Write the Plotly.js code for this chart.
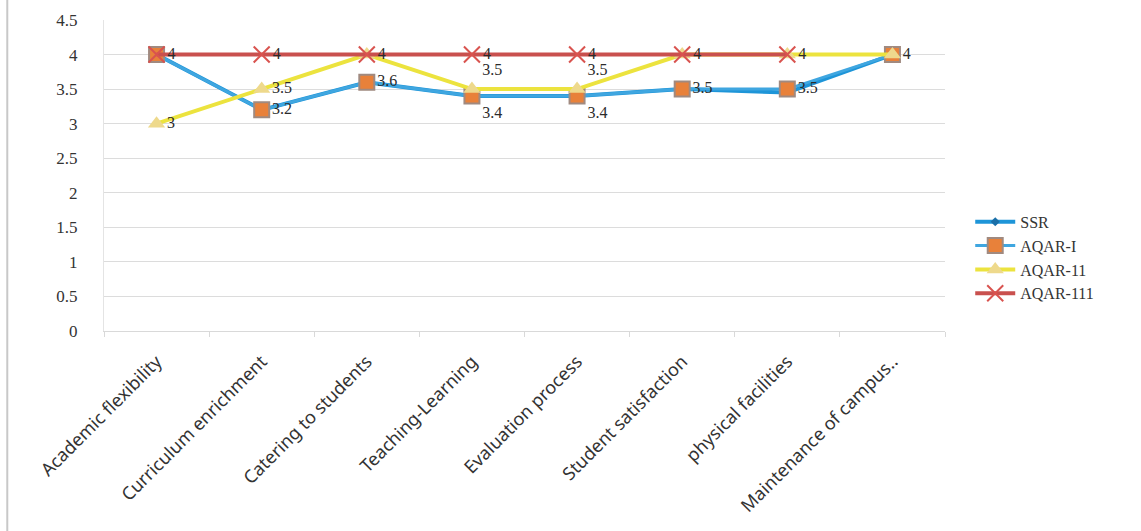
<!DOCTYPE html>
<html>
<head>
<meta charset="utf-8">
<script src="https://cdn.plot.ly/plotly-3.0.1.min.js"></script>
<style>
html,body{margin:0;padding:0;background:#fff;}
#chart{width:1141px;height:531px;}
</style>
</head>
<body>
<div id="chart"></div>
<script>
const categories = ["Academic flexibility","Curriculum enrichment","Catering to students","Teaching-Learning","Evaluation process","Student satisfaction","physical facilities","Maintenance of campus.."];
const seriesNames = ["SSR","AQAR-I","AQAR-11","AQAR-111"];
const ssr = [4, 3.2, 3.6, 3.4, 3.4, 3.5, 3.45, 4];
const aqar1 = [4, 3.2, 3.6, 3.4, 3.4, 3.5, 3.5, 4];
const aqar2 = [3, 3.5, 4, 3.5, 3.5, 4, 4, 4];
const aqar3 = [4, 4, 4, 4, 4, 4, 4, null];
const yTicks = [0, 0.5, 1, 1.5, 2, 2.5, 3, 3.5, 4, 4.5];
const yTickText = ["0","0.5","1","1.5","2","2.5","3","3.5","4","4.5"];

const allSeries = [ssr, aqar1, aqar2, aqar3];
const fmt = v => (v === null ? "" : String(Math.round(v * 10) / 10));

// label text: hide a label when a later-drawn series shows the same label at the same point
function labels(idx) {
  return allSeries[idx].map((v, i) => {
    if (v === null) return "";
    for (let j = idx + 1; j < allSeries.length; j++) {
      if (allSeries[j][i] !== null && fmt(allSeries[j][i]) === fmt(v)) return "";
    }
    return fmt(v);
  });
}
// label position: nudge up/down when another visible label is close
function positions(idx) {
  return allSeries[idx].map((v, i) => {
    if (v === null) return "middle right";
    let pos = "middle right";
    for (let j = 0; j < allSeries.length; j++) {
      if (j === idx) continue;
      const w = allSeries[j][i];
      if (w === null || fmt(w) === fmt(v)) continue;
      if (Math.abs(w - v) <= 0.2) pos = v > w ? "top right" : "bottom right";
    }
    return pos;
  });
}

const labelFont = {family: "Liberation Serif, Times New Roman, serif", size: 16, color: "#2b2b2b"};

const traces = [
  {x: categories, y: ssr, name: seriesNames[0], mode: "lines+markers+text",
   line: {color: "#1e95d8", width: 4}, marker: {symbol: "diamond", size: 7, color: "#1a6fa8"},
   text: labels(0), textposition: positions(0), textfont: labelFont, cliponaxis: false},
  {x: categories, y: aqar1, name: seriesNames[1], mode: "lines+markers+text",
   line: {color: "#3fa6e0", width: 3}, marker: {symbol: "square", size: 15, color: "#e8813a", line: {color: "#a08a80", width: 2}},
   text: labels(1), textposition: positions(1), textfont: labelFont, cliponaxis: false},
  {x: categories, y: aqar2, name: seriesNames[2], mode: "lines+markers+text",
   line: {color: "#ece33e", width: 4}, marker: {symbol: "triangle-up", size: 15, color: "#eed98c"},
   text: labels(2), textposition: positions(2), textfont: labelFont, cliponaxis: false},
  {x: categories, y: aqar3, name: seriesNames[3], mode: "lines+markers+text",
   line: {color: "#c9504e", width: 4}, marker: {symbol: "x-thin", size: 16, line: {color: "#d9534f", width: 2}},
   text: labels(3), textposition: positions(3), textfont: labelFont, cliponaxis: false}
];

const layout = {
  width: 1141, height: 531,
  margin: {l: 104, r: 196, t: 20, b: 200},
  paper_bgcolor: "#ffffff", plot_bgcolor: "#ffffff",
  showlegend: true,
  legend: {x: 1.03, y: 0.235, xanchor: "left", yanchor: "middle",
           font: {family: "Liberation Serif, Times New Roman, serif", size: 16, color: "#333"},
           tracegroupgap: 10, itemwidth: 40},
  xaxis: {type: "category", tickangle: -45, showgrid: false, showline: true, linecolor: "#d9d9d9",
          ticks: "outside", tickson: "boundaries", ticklen: 5, tickcolor: "#d9d9d9",
          tickfont: {family: "Noto Sans, sans-serif", size: 18, color: "#333"},
          ticklabelstandoff: 12,
          range: [-0.5, 7.5], fixedrange: true},
  yaxis: {range: [0, 4.5], tickvals: yTicks, ticktext: yTickText, showgrid: true, gridcolor: "#dcdcdc",
          gridwidth: 1, showline: true, linecolor: "#e4e4e4", zeroline: false, ticks: "",
          tickfont: {family: "Liberation Serif, Times New Roman, serif", size: 17, color: "#333"},
          ticklabelstandoff: 22},
  shapes: [{type: "line", xref: "paper", yref: "paper", x0: -0.115, x1: -0.115, y0: -1, y1: 1.1, line: {color: "#c8c8c8", width: 2}}]
};

Plotly.newPlot("chart", traces, layout, {displayModeBar: false, staticPlot: true});
</script>
</body>
</html>
